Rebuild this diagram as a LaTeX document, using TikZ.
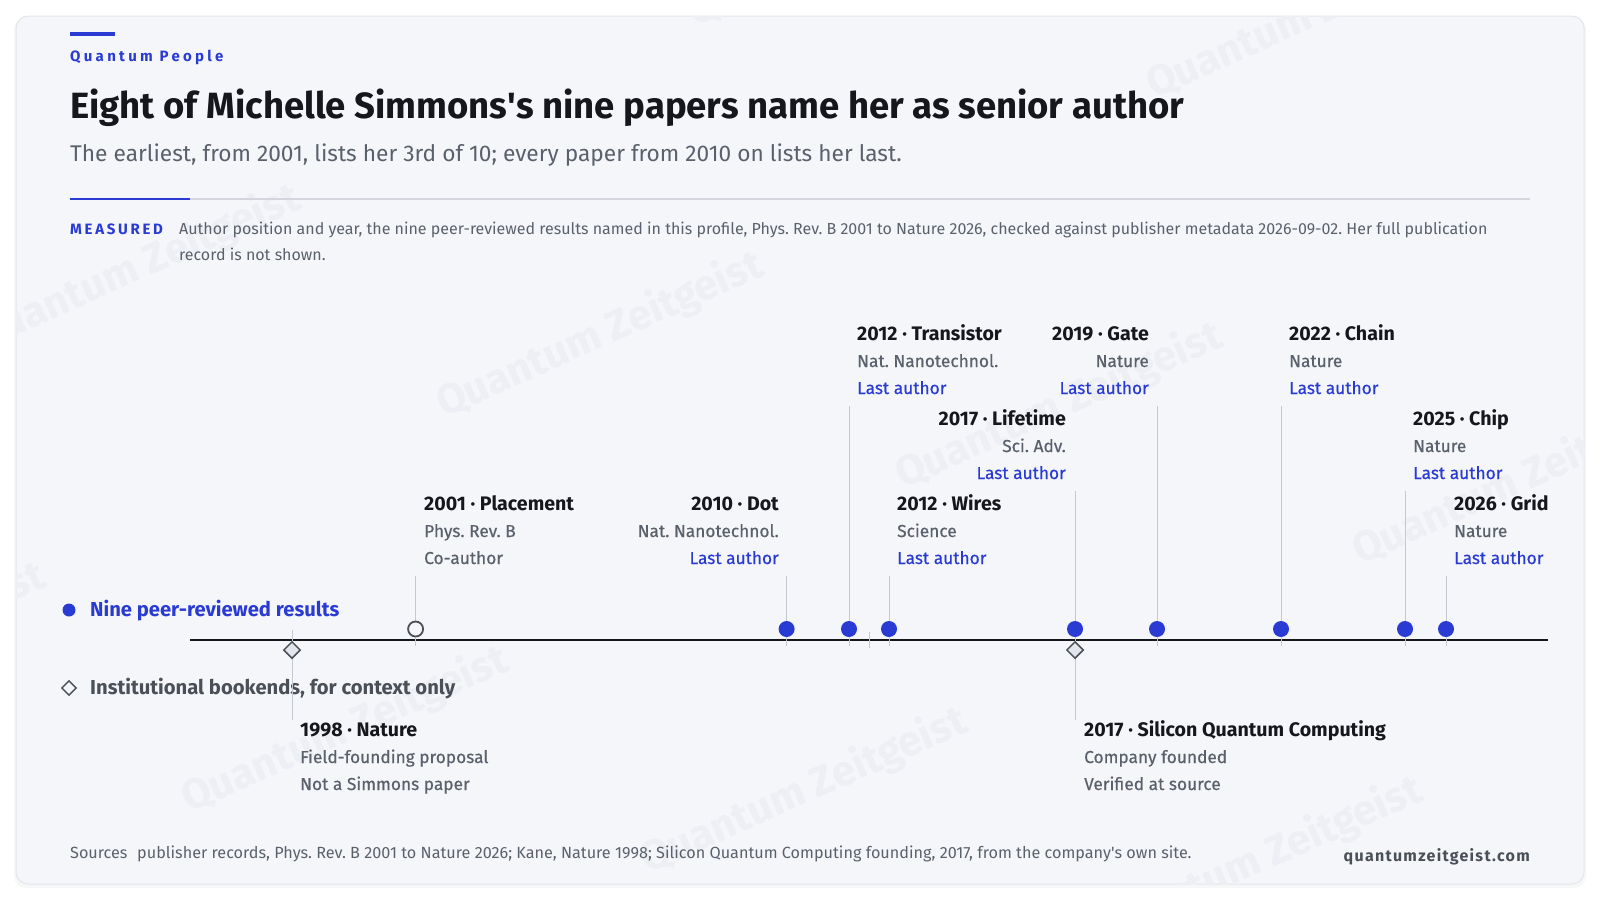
\documentclass[tikz,border=0pt]{standalone}
\usepackage{fontspec}
\setmainfont{Fira Sans}
\usepackage{xcolor}
\usepackage{tikz}
\usetikzlibrary{shapes.geometric}
\frenchspacing
\definecolor{qblue}{HTML}{2A3BD4}
\definecolor{ink}{HTML}{15171C}
\definecolor{slate}{HTML}{5B616C}
\definecolor{darkslate}{HTML}{4A4F58}
\definecolor{cardbg}{HTML}{F4F6FA}
\definecolor{cardline}{HTML}{E3E6EC}
\definecolor{rulegray}{HTML}{D3D6DC}
\definecolor{leadgray}{HTML}{C4C8CF}
\definecolor{wmgray}{HTML}{EDEFF4}
\tikzset{
  watermark/.style={font=\fontsize{42}{50}\selectfont\bfseries, text=wmgray, rotate=24, inner sep=0pt},
  evhead/.style={font=\fontsize{19.6}{22}\selectfont\bfseries, text=ink, inner sep=0pt},
  evjour/.style={font=\fontsize{17.3}{20}\selectfont\addfontfeature{FakeBold=0.5}, text=slate, inner sep=0pt},
  lastauth/.style={font=\fontsize{17.3}{20}\selectfont\addfontfeature{FakeBold=0.5}, text=qblue, inner sep=0pt},
  coauth/.style={evjour},
  leader/.style={leadgray, line width=0.9pt},
  paperdot/.style={circle, fill=qblue, minimum size=16pt, inner sep=0pt},
  opendot/.style={circle, draw=darkslate, fill=cardbg, line width=1.8pt, minimum size=15pt, inner sep=0pt},
  bookend/.style={diamond, draw=darkslate, fill=cardline, line width=1.5pt, minimum size=17pt, inner sep=0pt},
  legendtext/.style={font=\fontsize{20.2}{24}\selectfont\bfseries, inner sep=0pt, anchor=base west}
}
\newcommand{\paperlabel}[9]{%
  \node[evhead, anchor=base #4] at (#2,#3) (#1head) {#5};
  \node[evjour, anchor=base #4] at (#2,#3+27) (#1jour) {#6};
  \node[#7, anchor=base #4] at (#2,#3+54) (#1role) {#8};
  \coordinate (#1top) at (#9,#3+66);
  \coordinate (#1foot) at (#9,646);
}

\begin{document}
\begin{tikzpicture}[x=1pt,y=-1pt]
    \useasboundingbox (0,0) rectangle (1600,900);
    \fill[white] (0,0) rectangle (1600,900);
    \fill[black, opacity=0.03, rounded corners=12pt] (14,18) rectangle (1586,888);
    \filldraw[fill=cardbg, draw=cardline, line width=1pt, rounded corners=12pt] (16,16) rectangle (1584,884);
    \begin{scope}
      \clip[rounded corners=12pt] (16,16) rectangle (1584,884);
      \foreach \wx/\wy [count=\i] in {851/-56,1310/16,137/268,600/335,1059/406,1516/482,-118/646,345/730,804/791,1259/860}
        \node[watermark] at (\wx,\wy) (wm\i) {Quantum Zeitgeist};
    \end{scope}

    \draw[qblue, line width=3.5pt](70,34)--(115,34);
    \node[font=\fontsize{15}{18}\selectfont\bfseries\addfontfeature{LetterSpace=22}, text=qblue, anchor=base west, inner sep=0pt] at (70,61) (kicker) {Quantum People};
    \node[font=\fontsize{36.5}{42}\selectfont\bfseries, text=ink, anchor=base west, inner sep=0pt] at (70,118) (title) {Eight of Michelle Simmons\textquotesingle s nine papers name her as senior author};
    \node[font=\fontsize{22.7}{27}\selectfont, text=slate, anchor=base west, inner sep=0pt] at (70,161) (subtitle) {The earliest, from 2001, lists her 3rd of 10; every paper from 2010 on lists her last.};
    \draw[rulegray, line width=2pt](70,199)--(1530,199);
    \draw[qblue, line width=2.5pt](70,199)--(190,199);
    \node[font=\fontsize{15}{18}\selectfont\bfseries\addfontfeature{LetterSpace=18}, text=qblue, anchor=base west, inner sep=0pt] at (70,234) (measured) {MEASURED};
    \node[font=\fontsize{16}{25.5}\selectfont, text=slate, align=left, anchor=north west, inner sep=0pt] at (179,222) (method) {Author position and year, the nine peer-reviewed results named in this profile, Phys. Rev. B 2001 to Nature 2026, checked against publisher metadata 2026-09-02. Her full publication\\record is not shown.};

    \node[paperdot, minimum size=13pt] at (69,610) (legdot) {};
    \node[legendtext, text=qblue] at (90,616) (legpapers) {Nine peer-reviewed results};
    \node[bookend, minimum size=15pt, line width=1.4pt, fill=cardbg] at (69,688) (legdiamond) {};
    \node[legendtext, text=darkslate] at (90,694) (legbookends) {Institutional bookends, for context only};

    \coordinate (axisL) at (190,640);
    \coordinate (axisR) at (1548,640);
    \draw[ink, line width=2pt](axisL)--(axisR);
    \coordinate (tick2012a) at (869,632);
    \coordinate (tick2012b) at (869,648);
    \draw[leader](tick2012a)--(tick2012b);

    \paperlabel{p2001}{424}{510}{west}{2001 · Placement}{Phys. Rev. B}{coauth}{Co-author}{415.6}
    \paperlabel{p2010}{779}{510}{east}{2010 · Dot}{Nat. Nanotechnol.}{lastauth}{Last author}{786.6}
    \paperlabel{p2012t}{857}{340}{west}{2012 · Transistor}{Nat. Nanotechnol.}{lastauth}{Last author}{849}
    \paperlabel{p2012w}{897}{510}{west}{2012 · Wires}{Science}{lastauth}{Last author}{889}
    \paperlabel{p2017}{1066}{425}{east}{2017 · Lifetime}{Sci. Adv.}{lastauth}{Last author}{1075}
    \paperlabel{p2019}{1149}{340}{east}{2019 · Gate}{Nature}{lastauth}{Last author}{1157}
    \paperlabel{p2022}{1289}{340}{west}{2022 · Chain}{Nature}{lastauth}{Last author}{1281}
    \paperlabel{p2025}{1413}{425}{west}{2025 · Chip}{Nature}{lastauth}{Last author}{1405}
    \paperlabel{p2026}{1454}{510}{west}{2026 · Grid}{Nature}{lastauth}{Last author}{1446}
    \paperlabel{kane}{300}{736}{west}{1998 · Nature}{Field-founding proposal}{coauth}{Not a Simmons paper}{292}
    \paperlabel{sqc}{1084}{736}{west}{2017 · Silicon Quantum Computing}{Company founded}{coauth}{Verified at source}{1075}

    \coordinate (kanetick) at (292,630);
    \coordinate (kaneend) at (292,720);
    \coordinate (sqcend) at (1075,720);
    \draw[leader](kanetick)--(kaneend);
    \draw[leader](p2017foot)--(sqcend);
    \draw[leader](p2001top)--(p2001foot);
    \draw[leader](p2010top)--(p2010foot);
    \draw[leader](p2012ttop)--(p2012tfoot);
    \draw[leader](p2012wtop)--(p2012wfoot);
    \draw[leader](p2017top)--(p2017foot);
    \draw[leader](p2019top)--(p2019foot);
    \draw[leader](p2022top)--(p2022foot);
    \draw[leader](p2025top)--(p2025foot);
    \draw[leader](p2026top)--(p2026foot);

    \node[opendot] at (415.6,629) (d2001) {};
    \node[paperdot] at (786.6,629) (d2010) {};
    \node[paperdot] at (849,629) (d2012t) {};
    \node[paperdot] at (889,629) (d2012w) {};
    \node[paperdot] at (1075,629) (d2017) {};
    \node[paperdot] at (1157,629) (d2019) {};
    \node[paperdot] at (1281,629) (d2022) {};
    \node[paperdot] at (1405,629) (d2025) {};
    \node[paperdot] at (1446,629) (d2026) {};
    \node[bookend] at (292,650) (b1998) {};
    \node[bookend] at (1075,650) (b2017) {};

    \node[font=\fontsize{16.2}{19}\selectfont, text=slate, anchor=base west, inner sep=0pt] at (70,858) (sources) {Sources\hspace{0.6em}publisher records, Phys. Rev. B 2001 to Nature 2026; Kane, Nature 1998; Silicon Quantum Computing founding, 2017, from the company\textquotesingle s own site.};
    \node[font=\fontsize{16}{19}\selectfont\bfseries\addfontfeature{LetterSpace=8}, text=darkslate, anchor=base east, inner sep=0pt] at (1530,861) (site) {quantumzeitgeist.com};
\end{tikzpicture}
\end{document}
